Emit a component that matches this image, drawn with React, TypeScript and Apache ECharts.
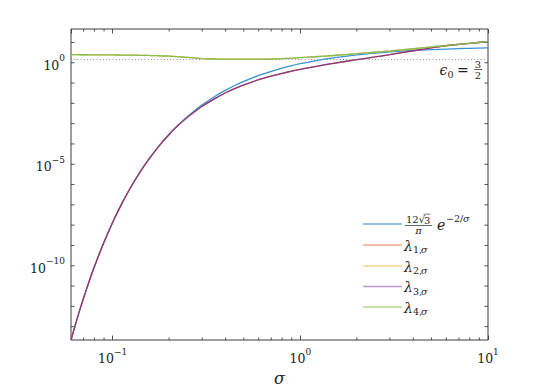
import { useEffect, useRef } from 'react';
import * as echarts from 'echarts';

// ---- data ----
const SIGMA = [0.06, 0.065, 0.07, 0.075, 0.08, 0.09, 0.1, 0.11, 0.12, 0.13, 0.14, 0.15, 0.16, 0.18, 0.2, 0.22, 0.25, 0.27, 0.3, 0.35, 0.4, 0.45, 0.5, 0.6, 0.7, 0.8, 0.9, 1, 1.2, 1.5, 2, 2.5, 3, 4, 5, 6, 7, 8, 10];
const BOUND = [2.209e-14, 2.869e-13, 2.583e-12, 1.735e-11, 9.188e-11, 1.478e-9, 1.364e-8, 8.401e-8, 3.823e-7, 1.378e-6, 4.134e-6, 1.072e-5, 2.466e-5, 9.888e-5, 3.004e-4, 7.455e-4, 2.219e-3, 4.014e-3, 8.42e-3, 0.02182, 0.04458, 0.0777, 0.1212, 0.236, 0.38, 0.5431, 0.717, 0.8954, 1.25, 1.744, 2.434, 2.973, 3.397, 4.013, 4.435, 4.741, 4.972, 5.153, 5.417];
const LAMBDA1 = [2.209e-14, 2.869e-13, 2.583e-12, 1.735e-11, 9.188e-11, 1.478e-9, 1.364e-8, 8.401e-8, 3.823e-7, 1.378e-6, 4.134e-6, 1.072e-5, 2.466e-5, 9.8e-5, 2.94e-4, 7.16e-4, 2.04e-3, 3.57e-3, 7.16e-3, 0.0172, 0.0334, 0.0552, 0.0812, 0.146, 0.22, 0.299, 0.387, 0.475, 0.65, 0.94, 1.41, 1.93, 2.51, 3.9, 5.4, 7.0, 8.1, 9.1, 11.0];
const LAMBDA3 = [2.209e-14, 2.869e-13, 2.583e-12, 1.735e-11, 9.188e-11, 1.478e-9, 1.364e-8, 8.401e-8, 3.823e-7, 1.378e-6, 4.134e-6, 1.072e-5, 2.466e-5, 9.8e-5, 2.94e-4, 7.16e-4, 2.04e-3, 3.57e-3, 7.16e-3, 0.0172, 0.0334, 0.0552, 0.0812, 0.146, 0.22, 0.299, 0.387, 0.475, 0.65, 0.94, 1.41, 1.93, 2.51, 3.9, 5.4, 7.0, 8.1, 9.1, 11.0];
const LAMBDA2 = [2.5, 2.49, 2.48, 2.47, 2.46, 2.44, 2.42, 2.4, 2.38, 2.36, 2.33, 2.3, 2.27, 2.2, 2.1, 2.0, 1.84, 1.73, 1.61, 1.53, 1.51, 1.5, 1.5, 1.5, 1.53, 1.6, 1.68, 1.78, 1.98, 2.28, 2.8, 3.3, 3.8, 4.9, 6.0, 7.05, 8.1, 9.1, 11.0];
const LAMBDA4 = [2.5, 2.49, 2.48, 2.47, 2.46, 2.44, 2.42, 2.4, 2.38, 2.36, 2.33, 2.3, 2.27, 2.2, 2.1, 2.0, 1.84, 1.73, 1.61, 1.53, 1.51, 1.5, 1.5, 1.5, 1.53, 1.6, 1.68, 1.78, 1.98, 2.28, 2.8, 3.3, 3.8, 4.9, 6.0, 7.05, 8.1, 9.1, 11.0];
const EPS0 = 1.5;

const X_MIN = 0.06;
const X_MAX = 10;
const Y_MIN = 2.2e-14;
const Y_MAX = 46;
const X_MINOR_TICKS = [0.07, 0.08, 0.09, 0.2, 0.3, 0.4, 0.5, 0.6, 0.7, 0.8, 0.9, 2, 3, 4, 5, 6, 7, 8, 9];
const Y_DECADE_TICKS = [1e1, 1e0, 1e-1, 1e-2, 1e-3, 1e-4, 1e-5, 1e-6, 1e-7, 1e-8, 1e-9, 1e-10, 1e-11, 1e-12, 1e-13];
const Y_LABELED_EXPONENTS = [0, -5, -10];
const LEGEND_SUBSCRIPTS = ['1,', '2,', '3,', '4,'];

// ---- styles ----
const SERIF = 'DejaVu Serif';
const AXIS = '#3c3c3c';
const TEXT = '#222222';
const LINE_COLORS = ['#3a92d6', '#d9826a', '#e8c25a', '#8a3a7e', '#88bc50'];
const LEGEND_COLORS = ['#6fb0e3', '#f0a48c', '#f6d68c', '#c297cf', '#b4d68d'];

const supText = (exp: number) => `{b|10}{s|${exp < 0 ? '\u2212' : ''}${Math.abs(exp)}}`;

export default function App() {
  const ref = useRef<HTMLDivElement>(null);

  useEffect(() => {
    if (!ref.current) return;
    const chart = echarts.init(ref.current, undefined, { renderer: 'svg' });

    const mk = (name: string, values: number[], color: string, z: number) => ({
      type: 'line',
      name,
      data: SIGMA.map((s, i) => [s, values[i]]),
      showSymbol: false,
      symbol: 'none',
      smooth: 0.2,
      silent: true,
      z,
      lineStyle: { color, width: 1.3 },
      itemStyle: { color },
    });

    const blue: any = mk('12√3/π e^(−2/σ)', BOUND, LINE_COLORS[0], 2);
    blue.markLine = {
      silent: true,
      symbol: ['none', 'none'],
      label: { show: false },
      lineStyle: { color: '#8c8c8c', type: [1, 2.2], width: 1 },
      data: [{ yAxis: EPS0 }],
    };

    const labelRich = {
      b: { fontSize: 12.5, lineHeight: 18, verticalAlign: 'bottom', fontFamily: SERIF, color: TEXT, fill: TEXT },
      s: { fontSize: 9, lineHeight: 8, verticalAlign: 'top', fontFamily: SERIF, color: TEXT, fill: TEXT },
    };

    const xMinorSeries = {
      type: 'custom',
      name: 'xminor',
      silent: true,
      clip: false,
      z: 5,
      data: X_MINOR_TICKS.map((v) => [v, 1]),
      renderItem: (params: any, api: any) => {
        const cs = params.coordSys;
        const x = api.coord([api.value(0), 1])[0];
        const top = cs.y;
        const bot = cs.y + cs.height;
        return {
          type: 'group',
          children: [
            { type: 'line', shape: { x1: x, y1: bot, x2: x, y2: bot - 2.5 }, style: { stroke: AXIS, lineWidth: 0.9 } },
            { type: 'line', shape: { x1: x, y1: top, x2: x, y2: top + 2.5 }, style: { stroke: AXIS, lineWidth: 0.9 } },
          ],
        };
      },
    };

    const yTickSeries = {
      type: 'custom',
      name: 'yticks',
      silent: true,
      clip: false,
      z: 5,
      data: Y_DECADE_TICKS.map((v) => [1, v]),
      renderItem: (params: any, api: any) => {
        const cs = params.coordSys;
        const v = api.value(1);
        const y = api.coord([1, v])[1];
        const left = cs.x;
        const right = cs.x + cs.width;
        const exp = Math.round(Math.log10(v));
        const children: any[] = [
          { type: 'line', shape: { x1: left, y1: y, x2: left + 3.5, y2: y }, style: { stroke: AXIS, lineWidth: 0.9 } },
          { type: 'line', shape: { x1: right, y1: y, x2: right - 3.5, y2: y }, style: { stroke: AXIS, lineWidth: 0.9 } },
        ];
        if (Y_LABELED_EXPONENTS.indexOf(exp) >= 0) {
          children.push({
            type: 'text',
            x: left - 6,
            y,
            style: {
              text: supText(exp),
              rich: labelRich,
              align: 'right',
              verticalAlign: 'middle',
              fill: TEXT,
              fontFamily: SERIF,
              fontSize: 12.5,
            },
          });
        }
        return { type: 'group', children };
      },
    };

    // ---- legend & annotation drawn with graphic elements ----
    const txt = (x: number, y: number, text: string, size: number, italic: boolean, align = 'left') => ({
      type: 'text',
      x,
      y,
      silent: true,
      style: {
        text,
        fontSize: size,
        fontFamily: SERIF,
        fontStyle: italic ? 'italic' : 'normal',
        fill: TEXT,
        align,
        verticalAlign: 'middle',
      },
    });
    const ln = (x1: number, y1: number, x2: number, y2: number, color: string, w: number) => ({
      type: 'line',
      silent: true,
      shape: { x1, y1, x2, y2 },
      style: { stroke: color, lineWidth: w },
    });

    const rowsY = [224, 245, 266, 286.5, 307];
    const legendEls: any[] = [];
    rowsY.forEach((ry, i) => {
      legendEls.push(ln(363, ry, 402, ry, LEGEND_COLORS[i], 1.5));
    });
    // blue entry: 12√3/π e^{-2/σ}
    legendEls.push(txt(406, 219.5, '12√', 10, false));
    legendEls.push(txt(424, 220, '3', 10, false));
    legendEls.push(ln(423.5, 214.2, 430.5, 214.2, TEXT, 0.6));
    legendEls.push(ln(405, 225.5, 432, 225.5, TEXT, 0.7));
    legendEls.push(txt(418.5, 230.5, 'π', 10, true, 'center'));
    legendEls.push(txt(437, 225, 'e', 14, true));
    legendEls.push(txt(446, 218.5, '\u22122/', 9.5, false));
    legendEls.push(txt(463, 218.5, 'σ', 9.5, true));
    // λ entries
    LEGEND_SUBSCRIPTS.forEach((sub, i) => {
      const ry = rowsY[i + 1];
      legendEls.push(txt(404, ry + 0.5, 'λ', 14, true));
      legendEls.push(txt(413, ry + 4.5, sub, 9.5, false));
      legendEls.push(txt(421, ry + 4.5, 'σ', 9.5, true));
    });
    // ε0 = 3/2 annotation
    legendEls.push(txt(439.5, 70, 'ϵ', 14, true));
    legendEls.push(txt(447.5, 74.5, '0', 9.5, false));
    legendEls.push(txt(457, 70, '=', 14, false));
    legendEls.push(txt(478, 64.5, '3', 10, false, 'center'));
    legendEls.push(ln(474, 69.5, 482, 69.5, TEXT, 0.7));
    legendEls.push(txt(478, 75, '2', 10, false, 'center'));

    const xAxisCommon = {
      type: 'log',
      logBase: 10,
      min: X_MIN,
      max: X_MAX,
      axisLine: { show: false },
      splitLine: { show: false },
      minorTick: { show: false },
      axisTick: { show: true, inside: true, length: 4.5, lineStyle: { color: AXIS, width: 0.9 } },
    };

    chart.setOption({
      animation: false,
      backgroundColor: '#ffffff',
      textStyle: { fontFamily: SERIF },
      grid: { left: 71, right: 52, top: 29, bottom: 49, show: true, borderColor: AXIS, borderWidth: 1, backgroundColor: 'transparent' },
      xAxis: [
        {
          ...xAxisCommon,
          position: 'bottom',
          name: 'σ',
          nameLocation: 'middle',
          nameGap: 30,
          nameTextStyle: { fontFamily: SERIF, fontStyle: 'italic', fontSize: 16, color: TEXT },
          axisLabel: {
            show: true,
            margin: 7,
            fontFamily: SERIF,
            formatter: (v: number) => {
              const e = Math.log10(v);
              const r = Math.round(e);
              if (Math.abs(e - r) > 1e-6) return '';
              return supText(r);
            },
            rich: labelRich,
          },
        },
        {
          ...xAxisCommon,
          position: 'top',
          axisLabel: { show: false },
        },
      ],
      yAxis: [
        {
          type: 'log',
          logBase: 10,
          min: Y_MIN,
          max: Y_MAX,
          axisLine: { show: false },
          axisTick: { show: false },
          axisLabel: { show: false },
          splitLine: { show: false },
        },
      ],
      series: [
        blue,
        mk('λ1,σ', LAMBDA1, LINE_COLORS[1], 3),
        mk('λ2,σ', LAMBDA2, LINE_COLORS[2], 4),
        mk('λ3,σ', LAMBDA3, LINE_COLORS[3], 5),
        mk('λ4,σ', LAMBDA4, LINE_COLORS[4], 6),
        xMinorSeries,
        yTickSeries,
      ],
      graphic: { elements: legendEls },
    });

    return () => {
      chart.dispose();
    };
  }, []);

  return (
    <div
      ref={ref}
      style={{ position: 'fixed', left: 0, top: 0, width: 540, height: 391, background: '#fff' }}
    />
  );
}
